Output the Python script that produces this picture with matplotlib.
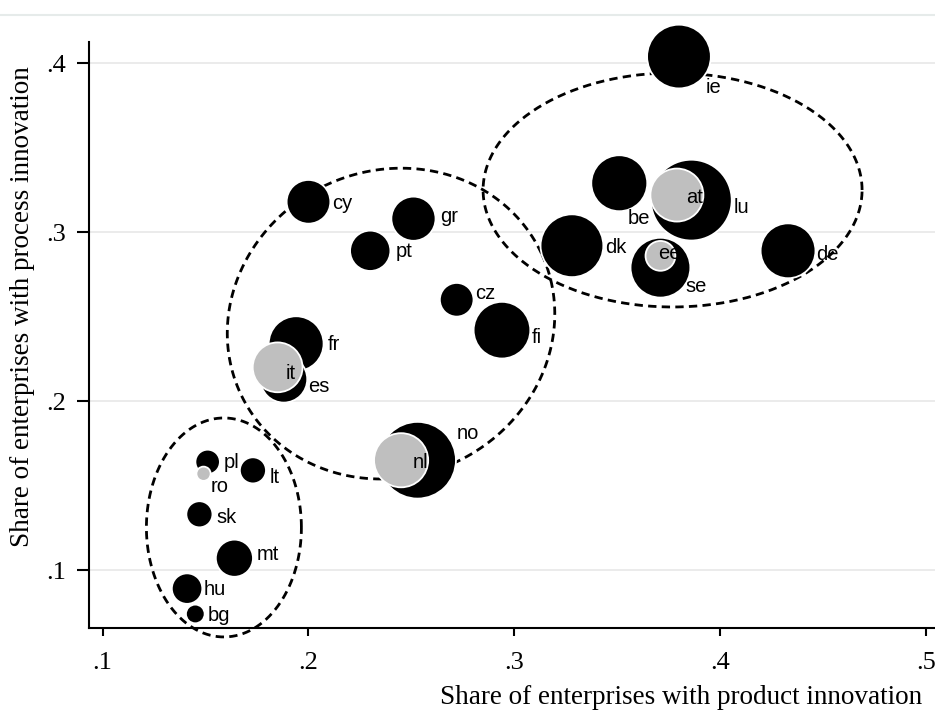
import numpy as np
import matplotlib
matplotlib.use("Agg")
import matplotlib.pyplot as plt
from matplotlib.lines import Line2D

# Country data: share of firms with product / process innovation, bubble weight
country = ['be', 'dk', 'de', 'ie', 'lu', 'se', 'cz', 'gr', 'cy', 'pt', 'fi', 'fr', 'es',
           'no', 'pl', 'lt', 'sk', 'mt', 'hu', 'bg',
           'at', 'ee', 'it', 'nl', 'ro']
product = [0.351, 0.328, 0.433, 0.380, 0.386, 0.371, 0.272, 0.251, 0.200, 0.230, 0.294, 0.194, 0.188,
           0.253, 0.151, 0.173, 0.147, 0.164, 0.141, 0.145,
           0.379, 0.371, 0.185, 0.245, 0.149]
process = [0.329, 0.292, 0.289, 0.404, 0.319, 0.279, 0.260, 0.308, 0.318, 0.289, 0.242, 0.234, 0.213,
           0.165, 0.164, 0.159, 0.133, 0.107, 0.089, 0.074,
           0.322, 0.286, 0.220, 0.165, 0.157]
weight = [7.6, 9.6, 7.3, 9.9, 16.0, 8.7, 2.7, 4.7, 4.6, 3.9, 7.8, 7.3, 5.3,
          14.4, 1.4, 1.6, 1.6, 3.3, 2.2, 0.8,
          6.8, 2.1, 6.0, 7.1, 0.45]
group = ['a'] * 20 + ['b'] * 5

# label offsets from the bubble centre (pixels right, pixels down)
label_dx = [8, 33, 28, 27, 42, 25, 18, 27, 24, 25, 30, 32, 24,
            39, 16, 17, 17, 22, 17, 12,
            9, -2, 8, 12, 7]
label_dy = [41, 7, 9, 36, 13, 24, -1, 3, 7, 6, 13, 6, 13,
            -21, 6, 13, 9, 2, 6, 7,
            8, 3, 12, 8, 18]

# hand-drawn cluster outlines: centre (data), half-axes (px), tilt (deg)
clusters = [
    dict(cx=0.3769, cy=0.3250, a=189.5, b=117.0, angle=0),
    dict(cx=0.2401, cy=0.2459, a=166.0, b=153.0, angle=25),
    dict(cx=0.1589, cy=0.1252, a=77.5, b=109.5, angle=0),
]

W, H = 935, 711
fig = plt.figure(figsize=(W / 100, H / 100), dpi=100)
fig.patch.set_facecolor('white')
ax = fig.add_axes([89.3 / W, (H - 628.3) / H, (W - 89.3) / W, (628.3 - 15) / H])
ax.set_xlim(0.0935, 0.5044)
ax.set_ylim(0.0655, 0.4286)

serif = 'Liberation Serif'
sans = 'Liberation Sans'

# axes styling
for side in ['top', 'right']:
    ax.spines[side].set_visible(False)
for side in ['left', 'bottom']:
    ax.spines[side].set_linewidth(1.5)
    ax.spines[side].set_color('black')
ax.spines['left'].set_bounds(0.0655, 0.4128)

xt = [0.1, 0.2, 0.3, 0.4, 0.5]
yt = [0.1, 0.2, 0.3, 0.4]
ax.set_xticks(xt)
ax.set_xticklabels([('%.1f' % v)[1:] for v in xt], family=serif, fontsize=19)
ax.set_yticks(yt)
ax.set_yticklabels([('%.1f' % v)[1:] for v in yt], family=serif, fontsize=19)
ax.tick_params(axis='x', direction='out', length=6, width=1.5, pad=11)
ax.tick_params(axis='y', direction='out', length=8.6, width=1.5, pad=8)

ax.yaxis.grid(True, color='#e8e8e8', linewidth=1.2, zorder=0)
ax.xaxis.grid(False)
ax.set_axisbelow(True)

# light outline line at the top of the plot region
fig.add_artist(Line2D([0, 1], [1 - 15 / H] * 2, transform=fig.transFigure,
                      color='#e6ebea', linewidth=1.5))

# dashed cluster ellipses
fig.canvas.draw()
inv = ax.transData.inverted()
t = np.linspace(0, 2 * np.pi, 400)
for c in clusters:
    x0, y0 = ax.transData.transform((c['cx'], c['cy']))
    th = np.deg2rad(c['angle'])
    ex = c['a'] * np.cos(t)
    ey = c['b'] * np.sin(t)
    px = x0 + ex * np.cos(th) - ey * np.sin(th)
    py = y0 + ex * np.sin(th) + ey * np.cos(th)
    pts = inv.transform(np.column_stack([px, py]))
    ax.plot(pts[:, 0], pts[:, 1], color='black', linewidth=2.0,
            linestyle=(0, (3.0, 1.9)), dash_capstyle='butt',
            clip_on=False, zorder=2)

# bubbles: area proportional to weight
px_per_pt = 100 / 72
sizes = [(2 * 10 * np.sqrt(w) / px_per_pt + 0.6) ** 2 for w in weight]
colors = {'a': 'black', 'b': '#bfbfbf'}
for g in ['a', 'b']:
    idx = [i for i in range(len(country)) if group[i] == g]
    ax.scatter([product[i] for i in idx], [process[i] for i in idx],
               s=[sizes[i] for i in idx], c=colors[g],
               edgecolors='white', linewidths=1.3, zorder=3, clip_on=False)

for i, name in enumerate(country):
    ax.annotate(name, (product[i], process[i]),
                xytext=(label_dx[i] / px_per_pt, -label_dy[i] / px_per_pt),
                textcoords='offset points', ha='left', va='baseline',
                family=sans, fontsize=14.5, color='black', zorder=5)

fig.text(22.5 / W, 1 - 307 / H, 'Share of enterprises with process innovation',
         rotation=90, ha='center', va='center', family=serif, fontsize=19.5)
fig.text(922 / W, 1 - 704 / H, 'Share of enterprises with product innovation',
         ha='right', va='baseline', family=serif, fontsize=19.5)

fig.savefig('out.png', dpi=100, facecolor='white')
